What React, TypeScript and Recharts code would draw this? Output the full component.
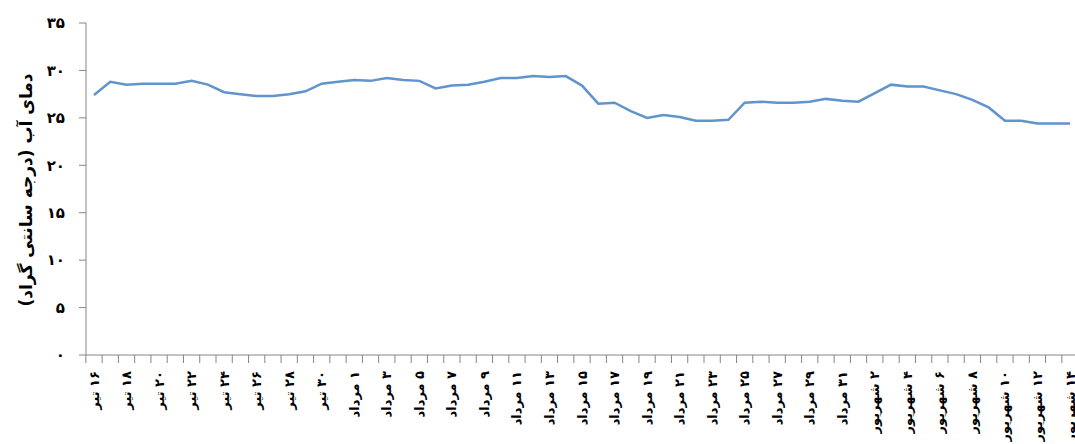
import React from 'react';
import { LineChart, Line, XAxis, YAxis } from 'recharts';

// water temperature, one reading per day from 16 Tir to 14 Shahrivar
const months = [
  { name: 'تیر', from: 16, to: 31 },
  { name: 'مرداد', from: 1, to: 31 },
  { name: 'شهریور', from: 1, to: 14 },
];

const temps = [
  27.4, 28.8, 28.5, 28.6, 28.6, 28.6, 28.9, 28.5, 27.7, 27.5,
  27.3, 27.3, 27.5, 27.8, 28.6, 28.8, 29.0, 28.9, 29.2, 29.0,
  28.9, 28.1, 28.4, 28.5, 28.8, 29.2, 29.2, 29.4, 29.3, 29.4,
  28.4, 26.5, 26.6, 25.7, 25.0, 25.3, 25.1, 24.7, 24.7, 24.8,
  26.6, 26.7, 26.6, 26.6, 26.7, 27.0, 26.8, 26.7, 27.6, 28.5,
  28.3, 28.3, 27.9, 27.5, 26.9, 26.1, 24.7, 24.7, 24.4, 24.4,
  24.4,
];

const yTicks = [0, 5, 10, 15, 20, 25, 30, 35];
const yTitle = 'دمای آب (درجه سانتی گراد)';

const faDigits = '۰۱۲۳۴۵۶۷۸۹';
const toFa = (n: number | string) => String(n).replace(/\d/g, (d) => faDigits[+d]);

const days: string[] = [];
months.forEach((m) => {
  for (let d = m.from; d <= m.to; d++) days.push(`${toFa(d)} ${m.name}`);
});

const data = days.map((day, i) => ({ day, temp: temps[i] }));

const FONT = '"DejaVu Sans", sans-serif';
const AXIS = '#868686';
const HALF_STEP = 8.13;

function DayTick(props: any) {
  const { x, y, payload, index } = props;
  return (
    <g>
      <line x1={x - HALF_STEP} x2={x - HALF_STEP} y1={y} y2={y + 8} stroke={AXIS} />
      {index % 2 === 0 && (
        <text
          x={x}
          y={y + 16}
          dy="0.35em"
          transform={`rotate(-90, ${x}, ${y + 16})`}
          direction="rtl"
          textAnchor="start"
          fontFamily={FONT}
          fontWeight="bold"
          fontSize={13}
          fill="#000"
        >
          {payload.value}
        </text>
      )}
    </g>
  );
}

function YTitle() {
  return (
    <text
      x={26}
      y={190}
      dy="0.35em"
      transform="rotate(-90, 26, 190)"
      direction="rtl"
      textAnchor="middle"
      fontFamily={FONT}
      fontWeight="bold"
      fontSize={17}
      fill="#000"
    >
      {yTitle}
    </text>
  );
}

export default function App() {
  return (
    <div style={{ position: 'absolute', left: 0, top: 0, width: 1075, height: 444, overflow: 'hidden', background: '#fff' }}>
      <LineChart width={1090} height={444} data={data} margin={{ top: 23, right: 12, bottom: 0, left: 0 }}>
        <XAxis
          dataKey="day"
          interval={0}
          height={89}
          tickLine={false}
          tickSize={0}
          tickMargin={0}
          padding={{ left: 8, right: 8 }}
          axisLine={{ stroke: AXIS }}
          tick={<DayTick />}
        />
        <YAxis
          width={86}
          domain={[0, 35]}
          ticks={yTicks}
          tickSize={7}
          tickMargin={14}
          tickLine={{ stroke: AXIS }}
          axisLine={{ stroke: AXIS }}
          tickFormatter={toFa}
          tick={{ fill: '#000', fontSize: 15, fontWeight: 'bold', fontFamily: FONT }}
          label={{ content: () => <YTitle /> }}
        />
        <Line
          dataKey="temp"
          stroke="#6094cd"
          strokeWidth={2.5}
          dot={false}
          isAnimationActive={false}
        />
      </LineChart>
    </div>
  );
}
